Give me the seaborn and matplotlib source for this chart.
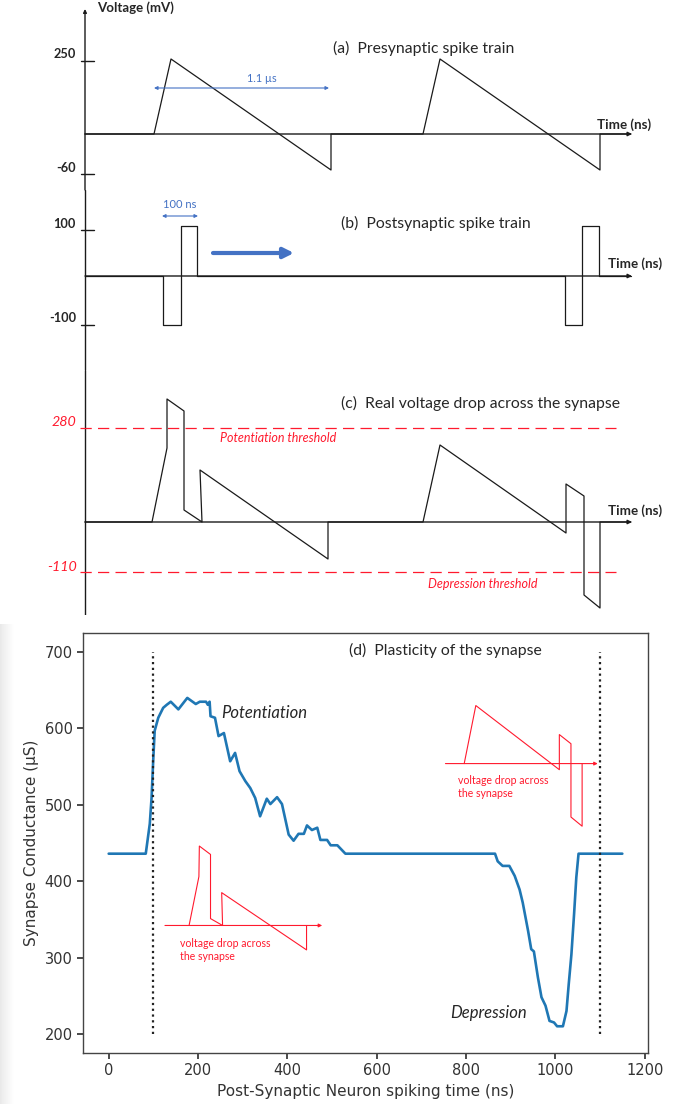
import numpy as np
import pandas as pd
import matplotlib
matplotlib.use("Agg")
import matplotlib.pyplot as plt
import seaborn as sns

# ---- (d) measured conductance vs post-synaptic spike time ----
t_ns = [0, 83, 92, 96, 100, 103, 111, 122, 130, 139, 156, 176, 195, 204, 218, 222, 226, 228,
        238, 246, 258, 272, 283, 293, 306, 317, 328, 339, 354, 362, 377, 388, 403, 414, 425,
        437, 444, 455, 467, 474, 489, 497, 512, 530, 865, 871, 882, 897, 909, 920, 927, 939,
        946, 952, 961, 969, 978, 987, 997, 1004, 1017, 1025, 1030, 1036, 1042, 1047, 1052, 1150]
g_us = [436, 436, 475, 509, 562, 597, 614, 627, 631, 635, 625, 640, 632, 635, 635, 631, 635, 616,
        614, 590, 594, 557, 568, 544, 531, 522, 509, 485, 508, 501, 510, 501, 461, 453, 462,
        462, 473, 467, 470, 454, 454, 447, 447, 436, 436, 426, 420, 420, 407, 389, 372, 335,
        311, 308, 274, 248, 237, 217, 215, 210, 210, 230, 265, 304, 357, 405, 436, 436]
window_ns = [100, 1100]
x_ticks = [0, 200, 400, 600, 800, 1000, 1200]
y_ticks = [200, 300, 400, 500, 600, 700]

# red inset sketches inside (d), in (ns, uS) units
ins1_x = [180, 202, 203, 228, 228, 255, 253, 443, 443]
ins1_y = [342, 406, 446, 435, 351, 342, 385, 310, 342]
ins2_x = [796, 822, 1009, 1009, 1035, 1035, 1060, 1060]
ins2_y = [554, 630, 546, 592, 580, 484, 472, 554]

# ---- schematic waveforms (a)-(c), sketch units: x from the voltage axis, y from zero line ----
pre_t = [0, 69, 86, 246, 246, 338, 355, 515, 515, 546]
pre_v = [0, 0, 75, -36, 0, 0, 75, -36, 0, 0]
post_t = [0, 78, 78, 96, 96, 112, 112, 480, 480, 497, 497, 514, 514, 546]
post_v = [0, 0, -49, -49, 50, 50, 0, 0, -49, -49, 50, 50, 0, 0]
syn_t = [0, 67, 82, 82, 99, 99, 117, 115, 243, 243, 338, 355, 481, 481, 499, 499, 515, 515, 546]
syn_v = [0, 0, 74, 123, 111, 12, 0, 52, -37, 0, 0, 77, -11, 38, 26, -73, -86, 0, 0]
thr_levels = [94, -50]

sns.set_theme(style="ticks")
plt.rcParams["axes.edgecolor"] = "#444444"

fig = plt.figure(figsize=(6.86, 11.04), dpi=100)
H = 1104.0
sk = "Lato"
ink = "#1a1a1a"
office_blue = "#4472C4"
red = "#ff1a2e"

# faint grey strip at the left edge of the lower screenshot
strip = fig.add_axes([0, 0, 14 / 686, (1104 - 624) / H])
strip.imshow(np.linspace(0, 1, 50)[None, :], cmap="Greys_r", vmin=-5, vmax=1,
             aspect="auto", extent=(0, 1, 0, 1))
strip.axis("off")


def panel(top, bottom, ylo, yhi):
    ax = fig.add_axes([0, 1 - bottom / H, 1, (bottom - top) / H])
    ax.set_xlim(-85, 601)
    ax.set_ylim(ylo, yhi)
    ax.axis("off")
    return ax


def time_axis(ax, x0, y0):
    ax.annotate("", xy=(547, 0), xytext=(0, 0),
                arrowprops=dict(arrowstyle="-|>", color=ink, lw=1.0, mutation_scale=6,
                                shrinkA=0, shrinkB=0))
    ax.text(x0, y0, "Time (ns)", family=sk, fontsize=9.6, fontweight="bold",
            ha="left", va="center")


def ytick(ax, v, lab):
    ax.plot([-4, 9], [v, v], color=ink, lw=1.0)
    ax.text(-9, v + 6.5, lab, family=sk, fontsize=9.2, fontweight="bold",
            ha="right", va="center")


# (a)
ax_a = panel(0, 190, -56, 134)
ax_a.annotate("", xy=(0, 125), xytext=(0, -56),
              arrowprops=dict(arrowstyle="-|>", color=ink, lw=1.0, mutation_scale=5,
                              shrinkA=0, shrinkB=0))
ax_a.plot(pre_t, pre_v, color=ink, lw=0.9)
time_axis(ax_a, 512, 9)
ytick(ax_a, 73, "250")
ytick(ax_a, -40, "-60")
ax_a.text(12, 126, "Voltage (mV)", family=sk, fontsize=9.5, fontweight="bold", va="center")
ax_a.text(248, 86, "(a)  Presynaptic spike train", family=sk, fontsize=11.3, va="center")
ax_a.annotate("", xy=(244, 46), xytext=(69, 46),
              arrowprops=dict(arrowstyle="<|-|>", color=office_blue, lw=0.8, mutation_scale=5,
                              shrinkA=0, shrinkB=0))
ax_a.text(177, 56, "1.1 µs", family=sk, fontsize=7.8, color=office_blue, ha="center", va="center")

# (b)
ax_b = panel(190, 370, -94, 86)
ax_b.axvline(0, color=ink, lw=1.0)
ax_b.plot(post_t, post_v, color=ink, lw=0.9)
time_axis(ax_b, 523, 12)
ytick(ax_b, 46, "100")
ytick(ax_b, -49, "-100")
ax_b.text(256, 53, "(b)  Postsynaptic spike train", family=sk, fontsize=11.3, va="center")
ax_b.annotate("", xy=(113, 60), xytext=(77, 60),
              arrowprops=dict(arrowstyle="<|-|>", color=office_blue, lw=0.8, mutation_scale=5,
                              shrinkA=0, shrinkB=0))
ax_b.text(95, 72, "100 ns", family=sk, fontsize=8, color=office_blue, ha="center", va="center")
ax_b.annotate("", xy=(209, 23), xytext=(128, 23),
              arrowprops=dict(arrowstyle="-|>", color=office_blue, lw=3, mutation_scale=15,
                              shrinkA=0, shrinkB=0))

# (c)
ax_c = panel(370, 615, -93, 152)
ax_c.axvline(0, color=ink, lw=1.0)
for lv in thr_levels:
    ax_c.plot([-5, 531], [lv, lv], color=red, lw=0.9, dashes=(9, 5))
ax_c.plot(syn_t, syn_v, color=ink, lw=0.9)
time_axis(ax_c, 523, 11)
ax_c.text(-9, 100, "280", family=sk, fontsize=10.3, style="italic", color=red,
          ha="right", va="center")
ax_c.text(-8, -45, "-110", family=sk, fontsize=10.3, style="italic", color=red,
          ha="right", va="center")
ax_c.text(193, 84, "Potentiation threshold", family=sk, fontsize=9, style="italic",
          color=red, ha="center", va="center")
ax_c.text(398, -62, "Depression threshold", family=sk, fontsize=9, style="italic",
          color=red, ha="center", va="center")
ax_c.text(256, 119, "(c)  Real voltage drop across the synapse", family=sk, fontsize=11.3,
          va="center")

# (d)
ax_d = fig.add_axes([83 / 686, 1 - 1053 / H, (648 - 83) / 686, (1053 - 633) / H])
df = pd.DataFrame({"t": t_ns, "g": g_us})
sns.lineplot(data=df, x="t", y="g", ax=ax_d, color="#1f77b4", lw=1.9, sort=False,
             estimator=None)
ax_d.vlines(window_ns, 200, 700, colors="#222222", linestyles=(0, (1, 1.6)), lw=1.6)
ax_d.set_xticks(x_ticks)
ax_d.set_yticks(y_ticks)
for s in ax_d.spines.values():
    s.set_visible(True)
    s.set_linewidth(1.0)
ax_d.tick_params(labelsize=10.5, colors="#333333", length=4)
ax_d.set_xlabel("Post-Synaptic Neuron spiking time (ns)", fontsize=11, color="#333333")
ax_d.set_ylabel("Synapse Conductance (µS)", fontsize=11, color="#333333")

ax_d.plot(ins1_x, ins1_y, color=red, lw=0.8)
ax_d.annotate("", xy=(478, 342), xytext=(126, 342),
              arrowprops=dict(arrowstyle="-|>", color=red, lw=0.8, mutation_scale=5,
                              shrinkA=0, shrinkB=0))
ax_d.text(160, 310, "voltage drop across\nthe synapse", family=sk, fontsize=7.6, color=red,
          va="center", linespacing=1.25)
ax_d.plot(ins2_x, ins2_y, color=red, lw=0.8)
ax_d.annotate("", xy=(1095, 554), xytext=(754, 554),
              arrowprops=dict(arrowstyle="-|>", color=red, lw=0.8, mutation_scale=5,
                              shrinkA=0, shrinkB=0))
ax_d.text(782, 523, "voltage drop across\nthe synapse", family=sk, fontsize=7.6, color=red,
          va="center", linespacing=1.25)

ax_d.text(253, 620, "Potentiation", family=sk, fontsize=12, style="italic", va="center")
ax_d.text(764, 228, "Depression", family=sk, fontsize=12, style="italic", va="center")
ax_d.text(539, 702, "(d)  Plasticity of the synapse", family=sk, fontsize=11.3, va="center")

fig.savefig("out.png", dpi=100)
